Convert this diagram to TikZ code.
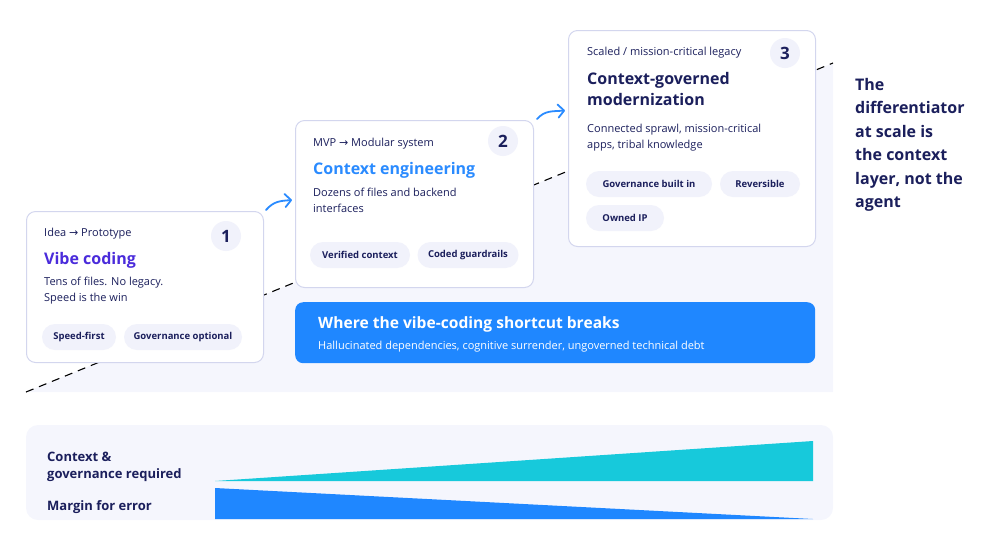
\documentclass[tikz,border=0pt]{standalone}
\usepackage{fontspec}
\setmainfont{Open Sans}
\newfontfamily\symfont{DejaVu Sans}
\usetikzlibrary{arrows.meta}
\definecolor{ink}{HTML}{1B1F5C}
\definecolor{vibe}{HTML}{4A2BDB}
\definecolor{ctxblue}{HTML}{2A8BFF}
\definecolor{breakblue}{HTML}{1F87FF}
\definecolor{teal}{HTML}{17C9DB}
\definecolor{pale}{HTML}{F5F6FD}
\definecolor{cardline}{HTML}{D3D6EE}
\definecolor{pillbg}{HTML}{F1F2FB}
\newcommand{\toarrow}{{\symfont\char"2192}}
\begin{document}
\begin{tikzpicture}[x=1pt,y=-1pt,
  card/.style={draw=cardline, line width=1pt, fill=white, rounded corners=9pt,
               anchor=north west, inner sep=0pt},
  badge/.style={circle, fill=pillbg, minimum size=30pt, inner sep=0pt,
                font=\fontsize{17}{17}\selectfont\bfseries, text=ink},
  kicker/.style={anchor=base west, inner sep=0pt, font=\fontsize{11}{13}\selectfont, text=ink},
  title/.style={anchor=base west, inner sep=0pt, align=left,
                font=\fontsize{16}{21}\selectfont\bfseries},
  body/.style={anchor=base west, inner sep=0pt, align=left,
               font=\fontsize{11}{16}\selectfont, text=ink},
  pill/.style={fill=pillbg, rounded corners=13pt, minimum height=26pt, inner sep=0pt,
               font=\fontsize{9.5}{11}\selectfont\bfseries, text=ink},
  side/.style={anchor=base west, inner sep=0pt, align=left, text=ink,
               font=\fontsize{16}{23.5}\selectfont\bfseries},
  gauge/.style={anchor=base west, inner sep=0pt, align=left, text=ink,
                font=\fontsize{13}{17}\selectfont\bfseries},
  stagearrow/.style={draw=ctxblue, line width=1.8pt, line cap=round,
                     -{Straight Barb[length=6pt,width=13pt,round]}},
  ]
  \useasboundingbox (0,0) rectangle (1000,550);
  % ---- staircase background ------------------------------------------------
  \fill[pale] (26,392) -- (833,63) -- (833,392) -- cycle;
  \draw[line width=1.1pt, dash pattern=on 8pt off 6pt] (26,392) -- (833,63);
  % ---- card 1 --------------------------------------------------------------
  \node[card, minimum width=237pt, minimum height=151pt] (c1) at (26,211) {};
  \node[badge] (b1) at (226,236) {1};
  \node[kicker] (k1) at (44,236) {Idea \toarrow{} Prototype};
  \node[title, text=vibe] (t1) at (44,264) {Vibe coding};
  \node[body] (d1) at (44,301) {Tens of files. No legacy.\\Speed is the win};
  \node[pill, minimum width=74pt] (p11) at (79,337) {Speed-first};
  \node[pill, minimum width=118pt] (p12) at (183,337) {Governance optional};
  % ---- card 2 --------------------------------------------------------------
  \node[card, minimum width=238pt, minimum height=167pt] (c2) at (295,120) {};
  \node[badge] (b2) at (503,141) {2};
  \node[kicker] (k2) at (313,146) {MVP \toarrow{} Modular system};
  \node[title, text=ctxblue] (t2) at (313,174) {Context engineering};
  \node[body] (d2) at (313,212) {Dozens of files and backend\\interfaces};
  \node[pill, minimum width=100pt] (p21) at (360,255) {Verified context};
  \node[pill, minimum width=101pt] (p22) at (468,255) {Coded guardrails};
  % ---- card 3 --------------------------------------------------------------
  \node[card, minimum width=247pt, minimum height=216pt] (c3) at (568,30) {};
  \node[badge] (b3) at (785,53) {3};
  \node[kicker] (k3) at (587,55) {Scaled / mission-critical legacy};
  \node[title, text=ink] (t3) at (587,105) {Context-governed\\modernization};
  \node[body] (d3) at (587,148) {Connected sprawl, mission-critical\\apps, tribal knowledge};
  \node[pill, minimum width=126pt] (p31) at (649,184) {Governance built in};
  \node[pill, minimum width=80pt] (p32) at (760,184) {Reversible};
  \node[pill, minimum width=78pt] (p33) at (625,218) {Owned IP};
  % ---- steps between cards ---------------------------------------------------
  \draw[stagearrow] ([shift={(2,-1)}]c1.north east) .. controls +(8,-9) and +(-12,1) .. ([shift={(-3,-4)}]c2.west);
  \draw[stagearrow] ([shift={(3,-1)}]c2.north east) .. controls +(8,-9) and +(-12,1) .. ([shift={(-3,-28)}]c3.west);
  % ---- where it breaks -------------------------------------------------------
  \node[fill=breakblue, rounded corners=8pt, anchor=north west, minimum width=520pt,
        minimum height=61pt, inner sep=0pt] (brk) at (295,302) {};
  \node[anchor=base west, inner sep=0pt, text=white, font=\fontsize{15.6}{18}\selectfont\bfseries]
    (brkt) at (318,328) {Where the vibe-coding shortcut breaks};
  \node[anchor=base west, inner sep=0pt, text=white, font=\fontsize{11}{13}\selectfont]
    (brkd) at (318,349) {Hallucinated dependencies, cognitive surrender, ungoverned technical debt};
  % ---- takeaway ----------------------------------------------------------------
  \node[side] (note) at (855,207.5) {The\\differentiator\\at scale is\\the context\\layer, not the\\agent};
  % ---- gauge ---------------------------------------------------------------------
  \fill[pale, rounded corners=12pt] (26,425) rectangle (833,520);
  \fill[teal] (215,481) -- (813,441) -- (813,481) -- cycle;
  \fill[breakblue] (215,488) -- (813,519) -- (215,519) -- cycle;
  \node[gauge] (g1) at (47,478) {Context \&\\governance required};
  \node[gauge] (g2) at (47,510) {Margin for error};
\end{tikzpicture}
\end{document}
